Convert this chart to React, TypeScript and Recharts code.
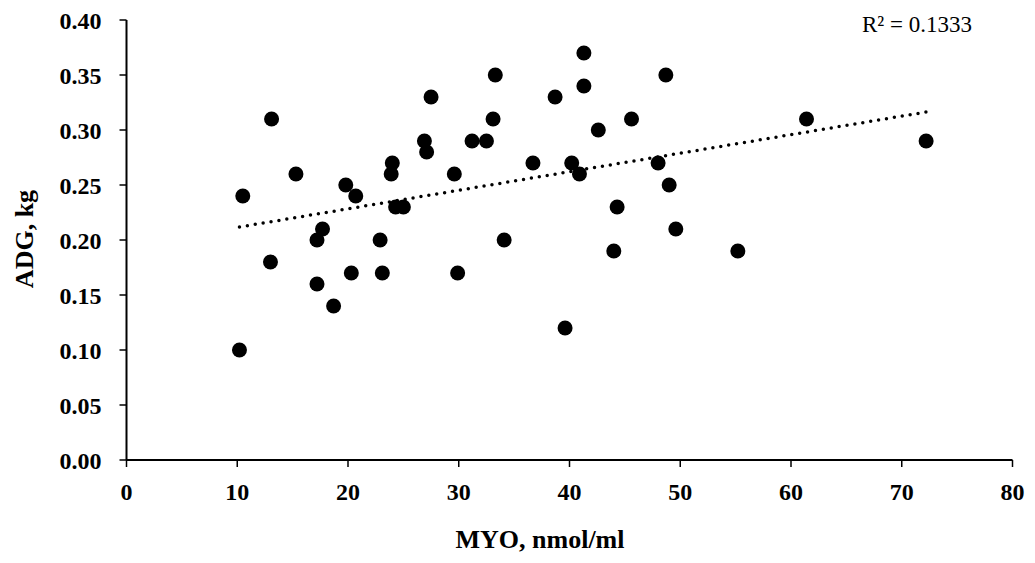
import { ComposedChart, Scatter, Line, XAxis, YAxis, Label } from "recharts";

const FONT = '"Liberation Serif", "Times New Roman", serif';

// MYO (nmol/ml) vs ADG (kg), one entry per animal
const myo = [
  10.2, 10.5, 13.1, 13.0, 15.3, 17.2, 17.7, 17.2, 18.7, 19.8, 20.7, 20.3,
  22.9, 23.1, 24.0, 23.9, 24.3, 25.0, 26.9, 27.1, 27.5, 29.6, 29.9, 31.2,
  32.5, 33.1, 33.3, 34.1, 36.7, 38.7, 39.6, 40.2, 40.9, 41.3, 41.3, 42.6,
  44.0, 44.3, 45.6, 48.0, 48.7, 49.0, 49.6, 55.2, 61.4, 72.2,
];
const adg = [
  0.10, 0.24, 0.31, 0.18, 0.26, 0.20, 0.21, 0.16, 0.14, 0.25, 0.24, 0.17,
  0.20, 0.17, 0.27, 0.26, 0.23, 0.23, 0.29, 0.28, 0.33, 0.26, 0.17, 0.29,
  0.29, 0.31, 0.35, 0.20, 0.27, 0.33, 0.12, 0.27, 0.26, 0.34, 0.37, 0.30,
  0.19, 0.23, 0.31, 0.27, 0.35, 0.25, 0.21, 0.19, 0.31, 0.29,
];
const xTicks = [0, 10, 20, 30, 40, 50, 60, 70, 80];
const yTicks = [0, 0.05, 0.1, 0.15, 0.2, 0.25, 0.3, 0.35, 0.4];
const r2Text = "R² = 0.1333";

const points = myo.map((x, i) => ({ x, y: adg[i] }));

// linear least-squares trend, drawn across the range of the data
function fitTrend(xs: number[], ys: number[]) {
  const n = xs.length;
  const mx = xs.reduce((a, b) => a + b, 0) / n;
  const my = ys.reduce((a, b) => a + b, 0) / n;
  let sxy = 0;
  let sxx = 0;
  xs.forEach((x, i) => {
    sxy += (x - mx) * (ys[i] - my);
    sxx += (x - mx) * (x - mx);
  });
  const slope = sxy / sxx;
  const icpt = my - slope * mx;
  const lo = Math.min(...xs);
  const hi = Math.max(...xs);
  return [
    { x: lo, y: icpt + slope * lo },
    { x: hi, y: icpt + slope * hi },
  ];
}
const trend = fitTrend(myo, adg);

const XTick = (props: any) => (
  <text x={props.x} y={props.y + 17} textAnchor="middle" fontFamily={FONT} fontWeight="bold" fontSize={24} fill="#000">
    {props.payload.value}
  </text>
);

const YTick = (props: any) => (
  <text x={props.x} y={props.y + 9} textAnchor="end" fontFamily={FONT} fontWeight="bold" fontSize={24} fill="#000">
    {Number(props.payload.value).toFixed(2)}
  </text>
);

const renderDot = (props: any) => <circle cx={props.cx} cy={props.cy} r={7.5} fill="#000" />;

export default function App() {
  return (
    <div style={{ position: "absolute", left: 0, top: 0, width: 1035, height: 563, background: "#fff" }}>
      <ComposedChart width={1035} height={563} margin={{ top: 20, right: 22.5, left: 0, bottom: 0 }}>
        <XAxis
          type="number"
          dataKey="x"
          domain={[0, 80]}
          ticks={xTicks}
          height={103}
          tickSize={7}
          tickMargin={16}
          tick={<XTick />}
          tickLine={{ stroke: "#000", strokeWidth: 1.5 }}
          axisLine={{ stroke: "#000", strokeWidth: 2 }}
        >
          <Label
            content={() => (
              <text x={540} y={548} textAnchor="middle" fontFamily={FONT} fontWeight="bold" fontSize={26} fill="#000">
                MYO, nmol/ml
              </text>
            )}
          />
        </XAxis>
        <YAxis
          type="number"
          domain={[0, 0.4]}
          ticks={yTicks}
          width={126.5}
          tickSize={7}
          tickMargin={18}
          tick={<YTick />}
          tickLine={{ stroke: "#000", strokeWidth: 1.5 }}
          axisLine={{ stroke: "#000", strokeWidth: 2 }}
        >
          <Label
            content={() => (
              <text
                x={33}
                y={239}
                transform="rotate(-90, 33, 239)"
                textAnchor="middle"
                fontFamily={FONT}
                fontWeight="bold"
                fontSize={26}
                fill="#000"
              >
                ADG, kg
              </text>
            )}
          />
        </YAxis>
        <Scatter data={points} dataKey="y" fill="#000" shape={renderDot} isAnimationActive={false} />
        <Line
          data={trend}
          dataKey="y"
          dot={false}
          activeDot={false}
          stroke="#000"
          strokeWidth={3.5}
          strokeDasharray="0 8"
          strokeLinecap="round"
          isAnimationActive={false}
        />
      </ComposedChart>
      <svg width={1035} height={563} style={{ position: "absolute", left: 0, top: 0, pointerEvents: "none" }}>
        <text x={917} y={32} textAnchor="middle" fontFamily={FONT} fontSize={23} fill="#000">
          {r2Text}
        </text>
      </svg>
    </div>
  );
}
